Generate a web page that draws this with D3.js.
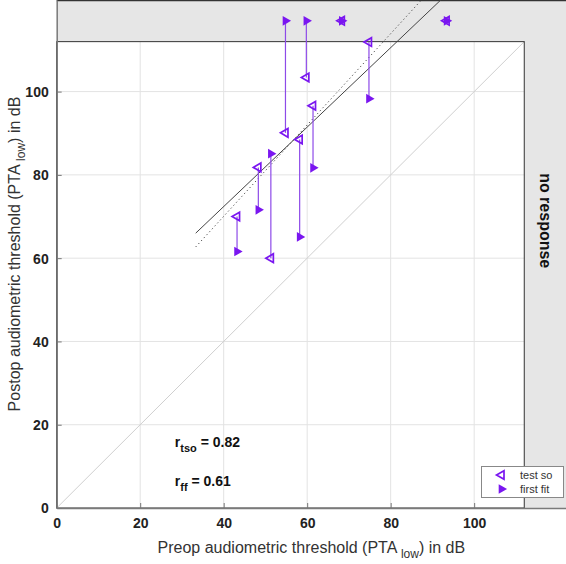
<!DOCTYPE html>
<html>
<head>
<meta charset="utf-8">
<script src="https://cdn.jsdelivr.net/npm/d3@7"></script>
<style>
  html, body { margin: 0; padding: 0; background: #fff; }
  svg { display: block; }
  text { font-family: "Liberation Sans", Arial, Helvetica, sans-serif; }
</style>
</head>
<body>
<svg id="chart" width="566" height="564"></svg>
<script>
// ---- data ----
const preop          = [43.2, 48.3, 51.3, 58.2, 61.4, 54.8, 59.8, 74.8, 68.3, 93.4];
const postopTestSo   = [70.0, 81.8, 60.0, 88.5, 96.6, 90.1, 103.4, 111.9, 117, 117];
const postopFirstFit = [61.6, 71.6, 85.1, 65.1, 81.7, 117, 117, 98.3, 117, 117];
const ticks = [0, 20, 40, 60, 80, 100];
const domainMax = 122;
const noResponseLimit = 112;
// regression lines: [x0, y0, x1, y1]
const fitSolid  = [33.3, 66.0, 92.0, 122.0];
const fitDotted = [33.3, 62.7, 87.1, 121.7];
const rTso = "0.82", rFf = "0.61";

// ---- layout ----
const svg = d3.select("#chart");
const x = d3.scaleLinear([0, domainMax], [56.7, 566]);
const y = d3.scaleLinear([0, domainMax], [508, 0]);
const purple = "#7a16f0";
const lineCol = "#8d4ae8";

// gray no-response background
svg.append("rect").attr("x", x(0)).attr("y", y(domainMax))
  .attr("width", x(domainMax) - x(0)).attr("height", y(0) - y(domainMax))
  .attr("fill", "#e6e6e6");
// white valid region
svg.append("rect").attr("x", x(0)).attr("y", y(noResponseLimit))
  .attr("width", x(noResponseLimit) - x(0)).attr("height", y(0) - y(noResponseLimit))
  .attr("fill", "#fff");

// grid
const grid = svg.append("g");
ticks.filter(t => t > 0).forEach(t => {
  grid.append("line").attr("x1", x(t)).attr("x2", x(t))
    .attr("y1", y(0)).attr("y2", y(noResponseLimit))
    .attr("stroke", "#e3e3e3").attr("stroke-width", 1);
  grid.append("line").attr("y1", y(t)).attr("y2", y(t))
    .attr("x1", x(0)).attr("x2", x(noResponseLimit))
    .attr("stroke", "#e3e3e3").attr("stroke-width", 1);
});
// identity line
svg.append("line").attr("x1", x(0)).attr("y1", y(0))
  .attr("x2", x(noResponseLimit)).attr("y2", y(noResponseLimit))
  .attr("stroke", "#cfcfcf").attr("stroke-width", 1);

// white box border
svg.append("rect").attr("x", x(0)).attr("y", y(noResponseLimit))
  .attr("width", x(noResponseLimit) - x(0)).attr("height", y(0) - y(noResponseLimit))
  .attr("fill", "none").attr("stroke", "#333").attr("stroke-width", 1);

// top border of the axes
svg.append("line").attr("x1", x(0)).attr("x2", x(domainMax))
  .attr("y1", y(domainMax) + 0.5).attr("y2", y(domainMax) + 0.5)
  .attr("stroke", "#333").attr("stroke-width", 1.5);

// axes
const xAxis = d3.axisBottom(x).tickValues(ticks).tickSizeInner(-5).tickSizeOuter(0).tickPadding(10);
const yAxis = d3.axisLeft(y).tickValues(ticks).tickSizeInner(-5).tickSizeOuter(0).tickPadding(8);
const gx = svg.append("g").attr("transform", `translate(0,${y(0)})`).call(xAxis);
const gy = svg.append("g").attr("transform", `translate(${x(0)},0)`).call(yAxis);
[gx, gy].forEach(g => {
  g.select(".domain").attr("stroke", "#7a7a7a").attr("stroke-width", 1.5);
  g.selectAll(".tick line").attr("stroke", "#777");
  g.selectAll(".tick text").attr("fill", "#222").attr("font-size", 14)
    .attr("font-weight", "bold").style("font-family", "'Liberation Sans', Arial, sans-serif");
});
gy.selectAll(".tick text").attr("dy", "0.35em");

// clip for fit lines
svg.append("clipPath").attr("id", "clip").append("rect")
  .attr("x", x(0)).attr("y", y(domainMax))
  .attr("width", x(domainMax) - x(0)).attr("height", y(0) - y(domainMax));
const fits = svg.append("g").attr("clip-path", "url(#clip)");
fits.append("line").attr("x1", x(fitSolid[0])).attr("y1", y(fitSolid[1]))
  .attr("x2", x(fitSolid[2])).attr("y2", y(fitSolid[3]))
  .attr("stroke", "#444").attr("stroke-width", 1);
fits.append("line").attr("x1", x(fitDotted[0])).attr("y1", y(fitDotted[1]))
  .attr("x2", x(fitDotted[2])).attr("y2", y(fitDotted[3]))
  .attr("stroke", "#444").attr("stroke-width", 1).attr("stroke-dasharray", "1.2,2.8");

// connectors
const pts = preop.map((p, i) => ({ x: p, a: postopTestSo[i], b: postopFirstFit[i] }));
svg.append("g").selectAll("line").data(pts).join("line")
  .attr("x1", d => x(d.x)).attr("x2", d => x(d.x))
  .attr("y1", d => y(d.a)).attr("y2", d => y(d.b))
  .attr("stroke", lineCol).attr("stroke-width", 1.2);

// marker shapes (centroid-centred equilateral-ish triangles)
const r = 5.6, h = r * 0.866;
const triRight = `M${-r / 2},${-h}L${-r / 2},${h}L${r},0Z`;
const rl = 5.0, hl = rl * 0.866;
const triLeft  = `M${rl / 2},${-hl}L${rl / 2},${hl}L${-rl},0Z`;
svg.append("g").selectAll("path").data(pts).join("path")
  .attr("transform", d => `translate(${x(d.x)},${y(d.b)})`)
  .attr("d", triRight).attr("fill", purple);
svg.append("g").selectAll("path").data(pts).join("path")
  .attr("transform", d => `translate(${x(d.x)},${y(d.a)})`)
  .attr("d", triLeft).attr("fill", "none").attr("stroke", purple).attr("stroke-width", 1.7)
  .attr("stroke-linejoin", "miter");

// correlation annotations
function rLabel(xp, yp, sub, val) {
  const t = svg.append("text").attr("x", xp).attr("y", yp)
    .attr("font-size", 14).attr("font-weight", "bold").attr("fill", "#111");
  t.append("tspan").text("r");
  t.append("tspan").attr("font-size", 11).attr("dy", 5).text(sub);
  t.append("tspan").attr("dy", -5).text(" = " + val);
}
rLabel(x(28.3), y(14.7), "tso", rTso);
rLabel(x(28.3), y(5.4), "ff", rFf);

// no response label
svg.append("text").attr("transform", `translate(${x(117)},${y(69)}) rotate(90)`)
  .attr("text-anchor", "middle").attr("dy", "0.35em")
  .attr("font-size", 16).attr("font-weight", "bold").attr("fill", "#111")
  .text("no response");

// legend
const lg = svg.append("g");
lg.append("rect").attr("x", 481.5).attr("y", 466.5).attr("width", 82).attr("height", 31)
  .attr("fill", "#fff").attr("stroke", "#888").attr("stroke-width", 1);
lg.append("path").attr("transform", "translate(501.5,475)").attr("d", triLeft)
  .attr("fill", "none").attr("stroke", purple).attr("stroke-width", 1.7);
lg.append("path").attr("transform", "translate(501.5,489)").attr("d", triRight)
  .attr("fill", purple);
lg.append("text").attr("x", 520).attr("y", 475).attr("dy", "0.35em")
  .attr("font-size", 11).attr("fill", "#333").text("test so");
lg.append("text").attr("x", 520).attr("y", 489).attr("dy", "0.35em")
  .attr("font-size", 11).attr("fill", "#333").text("first fit");

// axis titles
const xt = svg.append("text").attr("x", (x(0) + x(domainMax)) / 2).attr("y", 553)
  .attr("text-anchor", "middle").attr("font-size", 16).attr("fill", "#333");
xt.append("tspan").text("Preop audiometric threshold (PTA ");
xt.append("tspan").attr("font-size", 12).attr("dy", 5).text("low");
xt.append("tspan").attr("dy", -5).text(") in dB");

const yt = svg.append("text")
  .attr("transform", `translate(20,${(y(0) + y(domainMax)) / 2}) rotate(-90)`)
  .attr("text-anchor", "middle").attr("font-size", 16).attr("fill", "#333");
yt.append("tspan").text("Postop audiometric threshold (PTA ");
yt.append("tspan").attr("font-size", 12).attr("dy", 5).text("low");
yt.append("tspan").attr("dy", -5).text(") in dB");
</script>
</body>
</html>
